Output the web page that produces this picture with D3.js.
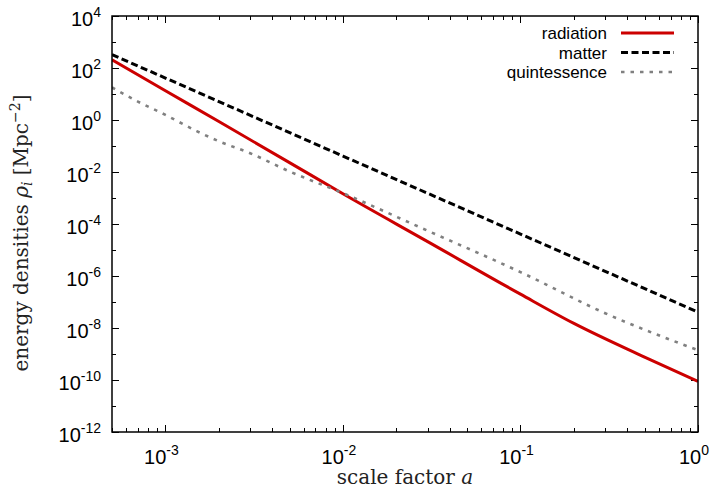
<!DOCTYPE html>
<html>
<head>
<meta charset="utf-8">
<script src="https://cdn.jsdelivr.net/npm/d3@7"></script>
<style>
  body { margin: 0; background: #fff; }
  svg text { font-family: "Liberation Sans", Arial, sans-serif; }
  .serif { font-family: "DejaVu Serif", "Liberation Serif", serif; }
</style>
</head>
<body>
<div id="chart"></div>
<script>
// values
const aRad = [5e-4, 1e-3, 2e-3, 5e-3, 1e-2, 3e-2, 0.1, 0.2, 0.5, 1];
const radiation = [208, 13.4, 0.87, 0.023, 1.45e-3, 2.1e-5, 2e-7, 1.5e-8, 7.6e-10, 8.9e-11];

const aMat = [5e-4, 1e-3, 1e-2, 0.1, 1];
const matter = [328, 41, 0.041, 4.1e-5, 4.1e-8];

const aQuint = [5e-4, 7e-4, 1e-3, 1.5e-3, 2e-3, 3e-3, 5e-3, 1e-2, 3e-2, 0.1, 0.3, 1];
const quintessence = [17.9, 5.1, 1.57, 0.374, 0.152, 0.0528, 0.0105, 1.53e-3, 5.5e-5, 1.41e-6, 3.7e-8, 1.4e-9];

const xTickExp = [-3, -2, -1, 0];
const yTickExp = [4, 2, 0, -2, -4, -6, -8, -10, -12];

const series = [
  {name: "radiation", a: aRad, v: radiation, color: "#cc0000", dash: null, width: 3},
  {name: "matter", a: aMat, v: matter, color: "#000000", dash: "7,3.5", width: 3},
  {name: "quintessence", a: aQuint, v: quintessence, color: "#808080", dash: "3.5,6", width: 2.6}
];

const width = 715, height = 491;
const margin = {top: 16, right: 17, bottom: 59, left: 112};

const svg = d3.select("#chart").append("svg")
  .attr("width", width)
  .attr("height", height);

const x = d3.scaleLog().domain([5e-4, 1]).range([margin.left, width - margin.right]);
const y = d3.scaleLog().domain([1e-12, 1e4]).range([height - margin.bottom, margin.top]);

const x0 = margin.left, x1 = width - margin.right;
const y0 = height - margin.bottom, y1 = margin.top;

// ticks (inward, mirrored)
const ticks = svg.append("g").attr("stroke", "#000").attr("stroke-width", 1);
const xMinor = [];
for (let e = -4; e <= 0; e++) {
  for (let m = 1; m < 10; m++) {
    const v = m * Math.pow(10, e);
    if (v >= 5e-4 && v <= 1) xMinor.push({v: v, major: m === 1});
  }
}
xMinor.forEach(t => {
  const len = t.major ? 7 : 4;
  const px = Math.round(x(t.v)) + 0.5;
  ticks.append("line").attr("x1", px).attr("x2", px).attr("y1", y0).attr("y2", y0 - len);
  ticks.append("line").attr("x1", px).attr("x2", px).attr("y1", y1).attr("y2", y1 + len);
});
for (let e = -12; e <= 4; e++) {
  const len = (e % 2 === 0) ? 7 : 4;
  const py = Math.round(y(Math.pow(10, e))) + 0.5;
  ticks.append("line").attr("x1", x0).attr("x2", x0 + len).attr("y1", py).attr("y2", py);
  ticks.append("line").attr("x1", x1).attr("x2", x1 - len).attr("y1", py).attr("y2", py);
}

// tick labels
xTickExp.forEach(e => {
  const t = svg.append("text")
    .attr("x", x(Math.pow(10, e)) - 4)
    .attr("y", y0 + 32)
    .attr("text-anchor", "middle")
    .attr("font-size", 20)
    .attr("fill", "#000");
  t.append("tspan").text("10");
  t.append("tspan").attr("dy", -9).attr("font-size", 14).text(e);
});
yTickExp.forEach(e => {
  const t = svg.append("text")
    .attr("x", x0 - 11)
    .attr("y", y(Math.pow(10, e)) + 10)
    .attr("text-anchor", "end")
    .attr("font-size", 20)
    .attr("fill", "#000");
  t.append("tspan").text("10");
  t.append("tspan").attr("dy", -9).attr("font-size", 14).text(e);
});

// curves
svg.append("clipPath").attr("id", "plotclip")
  .append("rect").attr("x", x0).attr("y", y1).attr("width", x1 - x0).attr("height", y0 - y1);

const line = d3.line()
  .x(d => x(d[0]))
  .y(d => y(d[1]))
  .curve(d3.curveMonotoneX);

const plot = svg.append("g").attr("clip-path", "url(#plotclip)");
series.forEach(s => {
  plot.append("path")
    .datum(s.a.map((a, i) => [a, s.v[i]]))
    .attr("fill", "none")
    .attr("stroke", s.color)
    .attr("stroke-width", s.width)
    .attr("stroke-dasharray", s.dash)
    .attr("d", line);
});

// frame
svg.append("rect")
  .attr("x", x0).attr("y", y1)
  .attr("width", x1 - x0).attr("height", y0 - y1)
  .attr("fill", "none")
  .attr("stroke", "#000")
  .attr("stroke-width", 1.5);

// legend
const legend = svg.append("g");
series.forEach((s, i) => {
  const ly = 33 + i * 19.5;
  legend.append("text")
    .attr("x", 607)
    .attr("y", ly + 6)
    .attr("text-anchor", "end")
    .attr("font-size", 17)
    .attr("fill", "#000")
    .text(s.name);
  legend.append("line")
    .attr("x1", 621).attr("x2", 674)
    .attr("y1", ly).attr("y2", ly)
    .attr("stroke", s.color)
    .attr("stroke-width", s.width)
    .attr("stroke-dasharray", s.dash);
});

// axis titles
const xl = svg.append("text")
  .attr("class", "serif")
  .attr("x", 405)
  .attr("y", 484)
  .attr("text-anchor", "middle")
  .attr("font-size", 20)
  .attr("fill", "#222");
xl.append("tspan").text("scale factor ");
xl.append("tspan").attr("font-style", "italic").text("a");

const yl = svg.append("text")
  .attr("class", "serif")
  .attr("transform", "translate(28,233) rotate(-90)")
  .attr("text-anchor", "middle")
  .attr("font-size", 20)
  .attr("fill", "#222");
yl.append("tspan").text("energy densities ");
yl.append("tspan").attr("font-style", "italic").text("ρ");
yl.append("tspan").attr("font-style", "italic").attr("font-size", 14).attr("dy", 4).text("i");
yl.append("tspan").attr("dy", -4).text(" [Mpc");
yl.append("tspan").attr("font-size", 14).attr("dy", -8).text("−2");
yl.append("tspan").attr("dy", 8).text("]");
</script>
</body>
</html>
